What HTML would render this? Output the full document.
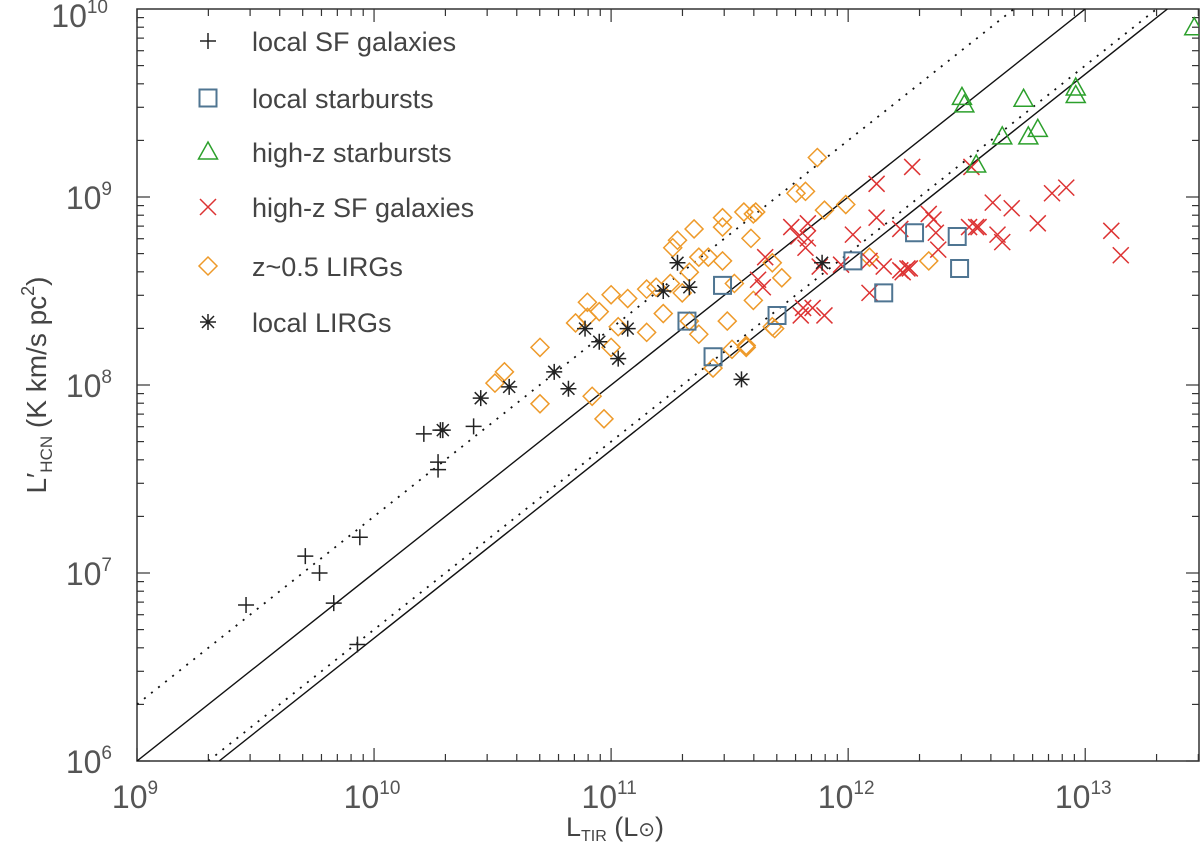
<!DOCTYPE html>
<html><head><meta charset="utf-8"><style>
html,body{margin:0;padding:0;background:#fff;overflow:hidden;}
svg{display:block;font-family:"Liberation Sans",sans-serif;}
</style></head><body>
<svg id="chart" width="1200" height="859" viewBox="0 0 1200 859" xmlns="http://www.w3.org/2000/svg">
<defs><clipPath id="plotclip"><rect x="137" y="9" width="1062" height="752"/></clipPath></defs>
<g id="grid"></g>
<g id="lines" clip-path="url(#plotclip)"></g>
<g id="marks" clip-path="url(#plotclip)"></g>
<g id="legend"></g>
<text x="615" y="836" font-size="27" fill="#444" text-anchor="middle">L<tspan font-size="16" dy="5">TIR</tspan><tspan dy="-5"> (L</tspan><tspan font-size="20">⊙</tspan>)</text>
<text transform="translate(46,385) rotate(-90)" font-size="28" fill="#444" text-anchor="middle">L′<tspan font-size="17" dy="6">HCN</tspan><tspan dy="-6"> (K km/s pc</tspan><tspan font-size="18" dy="-12">2</tspan><tspan dy="12">)</tspan></text>
</svg>
<script>
// axis ranges (log10)
const xLogMin = 9, xLogMax = 13.48, yLogMin = 6, yLogMax = 10;
const xTickExps = [9, 10, 11, 12, 13];
const yTickExps = [6, 7, 8, 9, 10];
// relation lines: L'HCN = ratio * LTIR
const solidRatios = [1e-3, 4.5e-4];
const dottedRatios = [2e-3, 5e-4];

// data (log10 LTIR, log10 L'HCN)
const sfLogL   = [9.46,9.71,9.77,9.83,9.94,9.93,10.21,10.27,10.27,10.42,10.28];
const sfLogHCN = [6.83,7.09,7.00,6.84,7.19,6.62,7.74,7.59,7.55,7.78,7.76];

const sbLogL   = [11.47,11.32,11.70,11.43,12.02,12.28,12.46,12.47,12.15];
const sbLogHCN = [8.53,8.34,8.37,8.15,8.66,8.81,8.79,8.62,8.49];

const hzsbLogL   = [12.48,12.49,12.54,12.65,12.76,12.80,12.74,12.96,12.96,13.46];
const hzsbLogHCN = [9.53,9.49,9.17,9.32,9.32,9.36,9.52,9.58,9.54,9.90];

const hzsfLogL   = [12.27,12.12,12.12,12.02,11.76,11.83,11.83,11.79,11.82,11.65,11.62,11.64,11.88,11.97,12.09,12.15,12.22,12.25,12.23,12.26,12.22,12.34,12.36,12.37,12.38,12.51,12.54,12.09,11.81,11.85,11.90,11.80,12.52,12.61,12.69,12.86,12.92,12.55,12.80,12.63,12.65,13.11,13.15];
const hzsfLogHCN = [9.16,9.07,8.89,8.80,8.84,8.86,8.78,8.79,8.73,8.68,8.56,8.52,8.63,8.64,8.66,8.63,8.61,8.62,8.60,8.62,8.83,8.91,8.88,8.81,8.72,8.84,8.84,8.49,8.41,8.41,8.37,8.37,9.16,8.97,8.94,9.02,9.05,8.84,8.86,8.80,8.76,8.82,8.69];

const zLogL   = [10.51,10.55,10.70,10.70,10.85,10.90,10.90,10.95,11.00,11.03,11.07,10.92,10.97,11.15,11.15,11.22,11.19,11.25,11.28,11.26,11.30,11.33,11.35,11.37,11.41,11.47,11.47,11.47,11.56,11.60,11.59,11.68,11.52,11.49,11.33,11.37,11.43,11.51,11.57,11.68,11.60,11.00,11.87,11.78,11.82,11.90,11.99,11.61,11.72,11.69,11.57,12.09,12.34];
const zLogHCN = [8.01,8.07,8.20,7.90,8.33,8.44,8.36,8.39,8.48,8.31,8.46,7.94,7.82,8.28,8.51,8.38,8.52,8.54,8.77,8.73,8.49,8.60,8.83,8.68,8.68,8.66,8.89,8.84,8.92,8.91,8.78,8.65,8.54,8.34,8.34,8.27,8.09,8.19,8.20,8.31,8.45,8.20,9.21,9.02,9.03,8.93,8.96,8.92,8.57,8.30,8.21,8.68,8.66];

const lirgLogL   = [10.29,10.45,10.57,10.76,10.82,10.89,10.95,11.03,11.07,11.22,11.28,11.33,11.55,11.89];
const lirgLogHCN = [7.76,7.93,7.99,8.07,7.98,8.30,8.23,8.14,8.30,8.50,8.65,8.52,8.03,8.65];

const legendLabels = ["local SF galaxies","local starbursts","high-z starbursts","high-z SF galaxies","z~0.5 LIRGs","local LIRGs"];

const PL=137, PR=1199, PT=9, PB=761;
const NS="http://www.w3.org/2000/svg";
function sx(l){return PL+(l-xLogMin)/(xLogMax-xLogMin)*(PR-PL);}
function sy(l){return PB-(l-yLogMin)/(yLogMax-yLogMin)*(PB-PT);}
function mk(tag,attrs,parent){const e=document.createElementNS(NS,tag);for(const k in attrs)e.setAttribute(k,attrs[k]);parent.appendChild(e);return e;}

const grid=document.getElementById('grid');
const frame=mk('rect',{x:PL,y:PT,width:PR-PL,height:PB-PT,fill:'none',stroke:'#333','stroke-width':1.5},grid);


for(let e=xLogMin;e<Math.ceil(xLogMax);e++){
  for(let m=1;m<10;m++){
    const l=e+Math.log10(m); if(l>xLogMax) break;
    const x=sx(l), len=(m===1)?13:7;
    const t1=mk('line',{x1:x,y1:PB,x2:x,y2:PB-len,stroke:'#333','stroke-width':1.2},grid);
    
    
    const t2=mk('line',{x1:x,y1:PT,x2:x,y2:PT+len,stroke:'#333','stroke-width':1.2},grid);
    
    
  }
}
xTickExps.forEach(e=>{
  const t=mk('text',{x:sx(e)-2,y:808,'font-size':32,fill:'#555','text-anchor':'middle'},grid);
  
  
  t.innerHTML='10<tspan font-size="19" dy="-14">'+e+'</tspan>';
});
for(let e=yLogMin;e<yLogMax;e++){
  for(let m=1;m<10;m++){
    const l=e+Math.log10(m); const y=sy(l), len=(m===1)?13:7;
    const t1=mk('line',{x1:PL,y1:y,x2:PL+len,y2:y,stroke:'#333','stroke-width':1.2},grid);
    
    
    const t2=mk('line',{x1:PR,y1:y,x2:PR-len,y2:y,stroke:'#333','stroke-width':1.2},grid);
    
    
  }
}
yTickExps.forEach(e=>{
  const t=mk('text',{x:e===10?108:112,y:sy(e)+(e===10?18:12),'font-size':32,fill:'#555','text-anchor':'end'},grid);
  
  
  t.innerHTML='10<tspan font-size="19" dy="-14">'+e+'</tspan>';
});
const lines=document.getElementById('lines');
function relLine(r,dash,name){
  const k=Math.log10(r);
  const a=Math.max(xLogMin, yLogMin-k), b=Math.min(xLogMax, yLogMax-k);
  const ln=mk('line',{x1:sx(a),y1:sy(a+k),x2:sx(b),y2:sy(b+k),stroke:'#111','stroke-width':1.4},lines);
  if(dash){ln.setAttribute('stroke-dasharray','2 7');ln.setAttribute('stroke-width','1.8');}
  
  
}
solidRatios.forEach(r=>relLine(r,false,'solid-relation-line'));
dottedRatios.forEach(r=>relLine(r,true,'dotted-relation-line'));

const marks=document.getElementById('marks');
function drawMarker(kind,x,y,parent,color){
  const s=8; let d;
  if(kind==='plus') d=`M${x-s},${y}H${x+s}M${x},${y-s}V${y+s}`;
  else if(kind==='square') d=`M${x-8.5},${y-8.5}h17v17h-17z`;
  else if(kind==='tri') d=`M${x},${y-10}L${x+9.5},${y+7}H${x-9.5}z`;
  else if(kind==='cross') d=`M${x-s},${y-s}L${x+s},${y+s}M${x-s},${y+s}L${x+s},${y-s}`;
  else if(kind==='diamond') d=`M${x},${y-9}L${x+9},${y}L${x},${y+9}L${x-9},${y}z`;
  else if(kind==='star') d=`M${x-s},${y}H${x+s}M${x},${y-s}V${y+s}M${x-6},${y-6}L${x+6},${y+6}M${x-6},${y+6}L${x+6},${y-6}`;
  const p=mk('path',{d:d,fill:'none',stroke:color,'stroke-width':kind==='square'?2:1.5},parent);
  return p;
}
const series=[
 {xs:sfLogL,ys:sfLogHCN,kind:'plus',color:'#222',name:'local-sf-point'},
 {xs:zLogL,ys:zLogHCN,kind:'diamond',color:'#ee9a2a',name:'z05-lirg-point'},
 {xs:hzsfLogL,ys:hzsfLogHCN,kind:'cross',color:'#dd3333',name:'highz-sf-point'},
 {xs:sbLogL,ys:sbLogHCN,kind:'square',color:'#4f7592',name:'local-starburst-point'},
 {xs:hzsbLogL,ys:hzsbLogHCN,kind:'tri',color:'#2ca02c',name:'highz-starburst-point'},
 {xs:lirgLogL,ys:lirgLogHCN,kind:'star',color:'#222',name:'local-lirg-point'}
];
series.forEach(s=>{
  s.xs.forEach((lx,i)=>{
    const p=drawMarker(s.kind,sx(lx),sy(s.ys[i]),marks,s.color);
    
    
  });
});
const leg=document.getElementById('legend');
const legKinds=['plus','square','tri','cross','diamond','star'];
const legColors=['#222','#4f7592','#2ca02c','#dd3333','#ee9a2a','#222'];
const legY=[41,98,152,207,266,322];
legendLabels.forEach((lab,i)=>{
  const p=drawMarker(legKinds[i],208,legY[i],leg,legColors[i]);
  
  
  const t=mk('text',{x:252,y:legY[i]+10,'font-size':27,fill:'#444'},leg);
  
  
  t.textContent=lab;
});
</script>
</body></html>
